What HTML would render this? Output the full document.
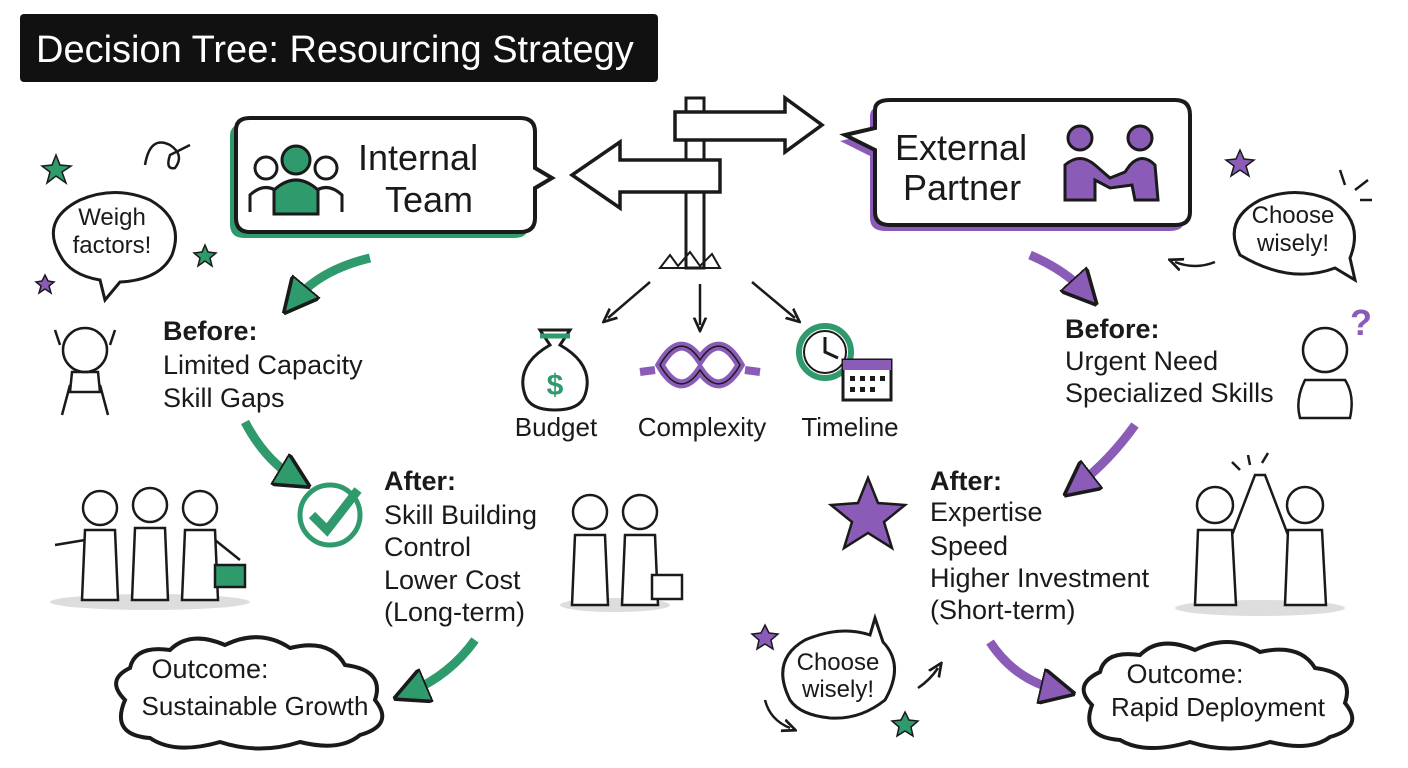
<!DOCTYPE html>
<html><head><meta charset="utf-8"><style>
html,body{margin:0;padding:0;background:#fff;}
svg{display:block;}
text{font-family:"Liberation Sans",sans-serif;fill:#1a1a1a;}
</style></head><body>
<svg width="1408" height="768" viewBox="0 0 1408 768" xmlns="http://www.w3.org/2000/svg">
<defs>
<marker id="ag" viewBox="0 0 10 10" refX="5" refY="5" markerWidth="4" markerHeight="4" orient="auto"><path d="M0,0 L10,5 L0,10 z" fill="#2f9a6c" stroke="#1a1a1a" stroke-width="1"/></marker>
<marker id="ap" viewBox="0 0 10 10" refX="5" refY="5" markerWidth="4" markerHeight="4" orient="auto"><path d="M0,0 L10,5 L0,10 z" fill="#8a5cb8" stroke="#1a1a1a" stroke-width="1"/></marker>
<marker id="ak" viewBox="0 0 10 10" refX="5" refY="5" markerWidth="6" markerHeight="6" orient="auto"><path d="M0,1 L9,5 L0,9" fill="none" stroke="#1a1a1a" stroke-width="1.8"/></marker>
</defs>
<!-- Title -->
<rect x="20" y="14" width="638" height="68" rx="4" fill="#111"/>
<text x="36" y="62" font-size="38" style="fill:#fff">Decision Tree: Resourcing Strategy</text>

<!-- Internal team bubble -->
<path d="M236,130 Q236,118 250,118 L520,118 Q535,118 535,132 L535,168 L552,178 L535,188 L535,218 Q535,232 520,232 L250,232 Q236,232 236,218 Z" fill="#2f9a6c" transform="translate(-6,6)"/>
<path d="M236,130 Q236,118 250,118 L520,118 Q535,118 535,132 L535,168 L552,178 L535,188 L535,218 Q535,232 520,232 L250,232 Q236,232 236,218 Z" fill="#fff" stroke="#1a1a1a" stroke-width="4"/>
<circle cx="266" cy="168" r="11" fill="none" stroke="#1a1a1a" stroke-width="3"/>
<path d="M250,212 L250,195 Q266,180 282,195 L282,212" fill="none" stroke="#1a1a1a" stroke-width="3"/>
<circle cx="326" cy="168" r="11" fill="none" stroke="#1a1a1a" stroke-width="3"/>
<path d="M310,212 L310,195 Q326,180 342,195 L342,212" fill="none" stroke="#1a1a1a" stroke-width="3"/>
<circle cx="296" cy="160" r="14" fill="#2f9a6c" stroke="#1a1a1a" stroke-width="3"/>
<path d="M274,214 L274,190 Q296,170 318,190 L318,214 Z" fill="#2f9a6c" stroke="#1a1a1a" stroke-width="3"/>
<text x="358" y="170" font-size="36">Internal</text>
<text x="385" y="212" font-size="36">Team</text>

<!-- Signpost -->
<rect x="686" y="98" width="18" height="170" fill="#fff" stroke="#1a1a1a" stroke-width="3"/>
<path d="M675,112 L785,112 L785,98 L822,125 L785,152 L785,140 L675,140 Z" fill="#fff" stroke="#1a1a1a" stroke-width="3.5"/>
<path d="M720,160 L620,160 L620,142 L572,175 L620,208 L620,192 L720,192 Z" fill="#fff" stroke="#1a1a1a" stroke-width="3.5"/>
<path d="M660,268 L670,255 L678,266 L690,252 L700,266 L712,254 L720,268 Z" fill="none" stroke="#1a1a1a" stroke-width="2"/>

<!-- External partner bubble -->
<path d="M875,110 Q875,100 890,100 L1175,100 Q1190,100 1190,115 L1190,212 Q1190,225 1175,225 L890,225 Q875,225 875,212 L875,150 L845,135 L875,128 Z" fill="#8a5cb8" transform="translate(-5,6)"/>
<path d="M875,110 Q875,100 890,100 L1175,100 Q1190,100 1190,115 L1190,212 Q1190,225 1175,225 L890,225 Q875,225 875,212 L875,150 L845,135 L875,128 Z" fill="#fff" stroke="#1a1a1a" stroke-width="4"/>
<text x="895" y="160" font-size="36">External</text>
<text x="903" y="200" font-size="36">Partner</text>
<circle cx="1080" cy="138" r="12" fill="#8a5cb8" stroke="#1a1a1a" stroke-width="3"/>
<path d="M1065,200 L1065,165 Q1080,152 1095,165 L1110,178 L1125,172 L1130,165 Q1142,152 1155,165 L1158,200 L1135,200 L1132,185 L1110,188 L1095,180 L1095,200 Z" fill="#8a5cb8" stroke="#1a1a1a" stroke-width="3"/>
<circle cx="1140" cy="138" r="12" fill="#8a5cb8" stroke="#1a1a1a" stroke-width="3"/>

<!-- Weigh factors bubble -->
<path d="M60,255 Q40,220 80,200 Q115,185 150,200 Q185,220 172,255 Q160,280 120,282 L105,300 L100,280 Q70,275 60,255 Z" fill="#fff" stroke="#1a1a1a" stroke-width="3"/>
<text x="112" y="225" font-size="24" text-anchor="middle">Weigh</text>
<text x="112" y="253" font-size="24" text-anchor="middle">factors!</text>
<path d="M56,155 L60,165 L71,166 L62,172 L66,183 L56,176 L47,183 L50,172 L42,166 L52,165 Z" fill="#2f9a6c" stroke="#1a1a1a" stroke-width="1.5"/>
<path d="M205,245 L208,252 L216,253 L210,258 L212,266 L205,261 L198,266 L200,258 L194,253 L202,252 Z" fill="#2f9a6c" stroke="#1a1a1a" stroke-width="1.5"/>
<path d="M45,275 L48,281 L54,282 L49,286 L51,293 L45,289 L39,293 L41,286 L36,282 L42,281 Z" fill="#8a5cb8" stroke="#1a1a1a" stroke-width="1.5"/>
<path d="M145,165 Q150,135 170,145 Q185,155 175,168 Q165,170 170,155 L190,145" fill="none" stroke="#1a1a1a" stroke-width="2.5"/>

<!-- Choose wisely right -->
<path d="M1240,255 Q1222,220 1260,200 Q1295,185 1330,200 Q1365,220 1350,258 L1355,280 L1335,268 Q1290,285 1240,255 Z" fill="#fff" stroke="#1a1a1a" stroke-width="3"/>
<text x="1293" y="223" font-size="24" text-anchor="middle">Choose</text>
<text x="1293" y="251" font-size="24" text-anchor="middle">wisely!</text>
<path d="M1240,150 L1244,159 L1254,160 L1246,166 L1249,176 L1240,170 L1231,176 L1234,166 L1226,160 L1236,159 Z" fill="#8a5cb8" stroke="#1a1a1a" stroke-width="1.5"/>
<path d="M1345,185 L1340,170 M1355,190 L1368,180 M1360,200 L1372,200" stroke="#1a1a1a" stroke-width="2.5"/>
<path d="M1215,262 Q1195,270 1175,262" fill="none" stroke="#1a1a1a" stroke-width="2.5" marker-end="url(#ak)"/>

<!-- Main arrows -->
<path d="M370,258 Q320,270 295,300" fill="none" stroke="#2f9a6c" stroke-width="9" marker-end="url(#ag)"/>
<path d="M1030,255 Q1065,270 1085,292" fill="none" stroke="#8a5cb8" stroke-width="9" marker-end="url(#ap)"/>
<path d="M245,422 Q265,460 295,478" fill="none" stroke="#2f9a6c" stroke-width="9" marker-end="url(#ag)"/>
<path d="M1135,425 Q1110,460 1078,485" fill="none" stroke="#8a5cb8" stroke-width="9" marker-end="url(#ap)"/>
<path d="M475,640 Q450,675 410,692" fill="none" stroke="#2f9a6c" stroke-width="9" marker-end="url(#ag)"/>
<path d="M990,642 Q1015,680 1058,690" fill="none" stroke="#8a5cb8" stroke-width="9" marker-end="url(#ap)"/>

<!-- small arrows -->
<path d="M650,282 L608,318" stroke="#1a1a1a" stroke-width="2.5" marker-end="url(#ak)"/>
<path d="M700,284 L700,325" stroke="#1a1a1a" stroke-width="2.5" marker-end="url(#ak)"/>
<path d="M752,282 L795,318" stroke="#1a1a1a" stroke-width="2.5" marker-end="url(#ak)"/>

<!-- Before left -->
<text x="163" y="340" font-size="27" font-weight="bold">Before:</text>
<text x="163" y="374" font-size="27">Limited Capacity</text>
<text x="163" y="407" font-size="27">Skill Gaps</text>
<circle cx="85" cy="350" r="22" fill="#fff" stroke="#1a1a1a" stroke-width="2.5"/>
<path d="M60,345 L55,330 M110,345 L115,330 M70,385 L62,415 M100,385 L108,415 M72,372 L98,372 L100,392 L70,392 Z" fill="none" stroke="#1a1a1a" stroke-width="2.5"/>

<!-- icons center -->
<path d="M540,330 L570,330 L560,345 Q595,365 585,395 Q580,410 555,410 Q530,410 525,395 Q515,365 550,345 Z" fill="#fff" stroke="#1a1a1a" stroke-width="3"/>
<path d="M540,336 L570,336" stroke="#2f9a6c" stroke-width="5"/>
<text x="555" y="395" font-size="30" text-anchor="middle" style="fill:#2f9a6c" font-weight="bold">$</text>
<path d="M660,365 Q680,330 700,360 Q720,330 740,365 Q720,400 700,370 Q680,400 660,365 Z" fill="none" stroke="#8a5cb8" stroke-width="9"/>
<path d="M660,365 Q680,330 700,360 Q720,330 740,365 Q720,400 700,370 Q680,400 660,365 Z" fill="none" stroke="#1a1a1a" stroke-width="1.5"/>
<path d="M655,370 L640,372 M745,370 L760,372" stroke="#8a5cb8" stroke-width="8"/>
<circle cx="825" cy="352" r="26" fill="#fff" stroke="#2f9a6c" stroke-width="6"/>
<circle cx="825" cy="352" r="21" fill="none" stroke="#1a1a1a" stroke-width="2"/>
<path d="M825,337 L825,352 L838,358" stroke="#1a1a1a" stroke-width="3" fill="none"/>
<rect x="843" y="360" width="48" height="40" fill="#fff" stroke="#1a1a1a" stroke-width="3"/>
<rect x="843" y="360" width="48" height="10" fill="#8a5cb8"/>
<g fill="#1a1a1a"><rect x="850" y="376" width="5" height="5"/><rect x="860" y="376" width="5" height="5"/><rect x="870" y="376" width="5" height="5"/><rect x="880" y="376" width="5" height="5"/><rect x="850" y="387" width="5" height="5"/><rect x="860" y="387" width="5" height="5"/><rect x="870" y="387" width="5" height="5"/></g>
<text x="556" y="436" font-size="26" text-anchor="middle">Budget</text>
<text x="702" y="436" font-size="26" text-anchor="middle">Complexity</text>
<text x="850" y="436" font-size="26" text-anchor="middle">Timeline</text>

<!-- Before right -->
<text x="1065" y="338" font-size="27" font-weight="bold">Before:</text>
<text x="1065" y="370" font-size="27">Urgent Need</text>
<text x="1065" y="402" font-size="27">Specialized Skills</text>
<circle cx="1325" cy="350" r="22" fill="#fff" stroke="#1a1a1a" stroke-width="2.5"/>
<text x="1350" y="335" font-size="36" style="fill:#8a5cb8" font-weight="bold">?</text>
<path d="M1305,380 Q1295,400 1300,418 L1350,418 Q1355,395 1345,380 Z" fill="none" stroke="#1a1a1a" stroke-width="2.5"/>

<!-- After left -->
<circle cx="330" cy="515" r="30" fill="#fff" stroke="#2f9a6c" stroke-width="5"/>
<path d="M312,515 L327,530 L358,490" fill="none" stroke="#2f9a6c" stroke-width="9"/>
<text x="384" y="490" font-size="27" font-weight="bold">After:</text>
<text x="384" y="524" font-size="27">Skill Building</text>
<text x="384" y="556" font-size="27">Control</text>
<text x="384" y="589" font-size="27">Lower Cost</text>
<text x="384" y="621" font-size="27">(Long-term)</text>

<!-- people left -->
<g fill="#fff" stroke="#1a1a1a" stroke-width="2.5">
<ellipse cx="150" cy="602" rx="100" ry="8" fill="#ddd" stroke="none"/>
<circle cx="100" cy="508" r="17"/><circle cx="150" cy="505" r="17"/><circle cx="200" cy="508" r="17"/>
<path d="M85,530 L115,530 L118,600 L82,600 Z"/><path d="M135,528 L165,528 L168,600 L132,600 Z"/><path d="M185,530 L215,530 L218,600 L182,600 Z"/>
<path d="M85,540 L55,545 M215,540 L240,560"/>
<rect x="215" y="565" width="30" height="22" fill="#2f9a6c"/>
<ellipse cx="615" cy="605" rx="55" ry="7" fill="#ddd" stroke="none"/>
<circle cx="590" cy="512" r="17"/><circle cx="640" cy="512" r="17"/>
<path d="M575,535 L605,535 L608,605 L572,605 Z"/><path d="M625,535 L655,535 L658,605 L622,605 Z"/>
<rect x="652" y="575" width="30" height="24"/>
</g>

<!-- After right -->
<path d="M868,478 L878,503 L905,505 L884,522 L892,548 L868,533 L844,548 L852,522 L831,505 L858,503 Z" fill="#8a5cb8" stroke="#1a1a1a" stroke-width="2.5"/>
<text x="930" y="490" font-size="27" font-weight="bold">After:</text>
<text x="930" y="521" font-size="27">Expertise</text>
<text x="930" y="555" font-size="27">Speed</text>
<text x="930" y="587" font-size="27">Higher Investment</text>
<text x="930" y="619" font-size="27">(Short-term)</text>
<g fill="#fff" stroke="#1a1a1a" stroke-width="2.5">
<ellipse cx="1260" cy="608" rx="85" ry="8" fill="#ddd" stroke="none"/>
<circle cx="1215" cy="505" r="18"/><circle cx="1305" cy="505" r="18"/>
<path d="M1198,530 L1232,530 L1236,605 L1195,605 Z"/><path d="M1288,530 L1322,530 L1326,605 L1285,605 Z"/>
<path d="M1232,535 L1255,475 L1265,475 L1288,535"/>
<path d="M1250,465 L1248,455 M1262,463 L1268,453 M1240,470 L1232,462" fill="none"/>
</g>

<!-- Clouds -->
<path d="M125,700 Q105,680 130,668 Q135,645 170,650 Q190,630 225,645 Q260,628 290,648 Q330,638 345,665 Q385,670 375,700 Q395,725 360,735 Q340,752 300,742 Q260,755 220,742 Q175,755 150,738 Q110,735 125,700 Z" fill="#fff" stroke="#1a1a1a" stroke-width="4"/>
<text x="210" y="678" font-size="27" text-anchor="middle">Outcome:</text>
<text x="255" y="715" font-size="26" text-anchor="middle">Sustainable Growth</text>
<path d="M1092,705 Q1072,685 1100,672 Q1105,650 1140,655 Q1160,635 1195,650 Q1230,633 1260,652 Q1300,643 1315,668 Q1355,673 1345,703 Q1365,727 1330,737 Q1310,752 1270,742 Q1230,755 1190,742 Q1145,755 1120,740 Q1080,737 1092,705 Z" fill="#fff" stroke="#1a1a1a" stroke-width="4"/>
<text x="1185" y="683" font-size="27" text-anchor="middle">Outcome:</text>
<text x="1218" y="716" font-size="26" text-anchor="middle">Rapid Deployment</text>

<!-- Choose wisely bottom -->
<path d="M790,700 Q770,660 805,640 Q840,625 870,635 L875,618 L883,642 Q905,665 885,700 Q860,720 830,718 Q800,715 790,700 Z" fill="#fff" stroke="#1a1a1a" stroke-width="3"/>
<text x="838" y="670" font-size="24" text-anchor="middle">Choose</text>
<text x="838" y="697" font-size="24" text-anchor="middle">wisely!</text>
<path d="M765,625 L769,633 L778,634 L771,640 L773,649 L765,644 L757,649 L759,640 L752,634 L761,633 Z" fill="#8a5cb8" stroke="#1a1a1a" stroke-width="1.5"/>
<path d="M905,712 L909,720 L918,721 L911,727 L913,736 L905,731 L897,736 L899,727 L892,721 L901,720 Z" fill="#2f9a6c" stroke="#1a1a1a" stroke-width="1.5"/>
<path d="M765,700 Q770,720 790,728" fill="none" stroke="#1a1a1a" stroke-width="2.5" marker-end="url(#ak)"/>
<path d="M918,688 Q930,680 938,668" fill="none" stroke="#1a1a1a" stroke-width="2.5" marker-end="url(#ak)"/>
</svg>
</body></html>
